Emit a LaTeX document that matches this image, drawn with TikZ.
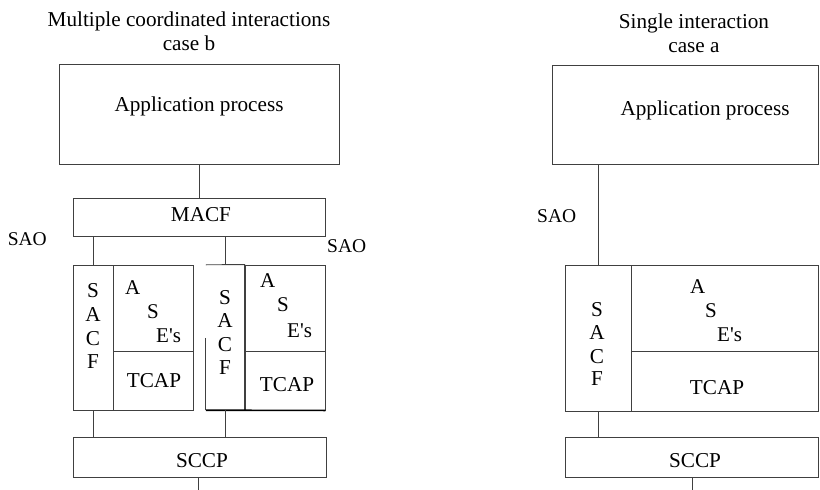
\documentclass[tikz,border=0pt]{standalone}
\usepackage{fontspec}
\setmainfont{Liberation Serif}
\begin{document}
\begin{tikzpicture}[x=1pt,y=-1pt,
  box/.style={draw=linec,line width=0.9pt,inner sep=0pt,minimum width=#1},
  txt/.style={inner sep=0pt,anchor=base,font=\fontsize{21.2}{24}\selectfont},
  txtw/.style={inner sep=0pt,anchor=base west,font=\fontsize{21}{24}\selectfont},
  sao/.style={inner sep=0pt,font=\fontsize{19.5}{22}\selectfont},
  conn/.style={draw=linec,line width=0.9pt}]
\definecolor{linec}{HTML}{404040}
\useasboundingbox (0,0) rectangle (820,490);
\fill[white] (0,0) rectangle (820,490);
% ---------------- case b (left) ----------------
\node[txt] (tb1) at (189,26) {Multiple coordinated interactions};
\node[txt] (tb2) at (189,50) {case b};
\node[box=280pt,minimum height=100pt] (apL) at (199,114) {};
\node[txt] (apLt) at (199,111) {Application process};
\node[box=252pt,minimum height=38pt] (macf) at (199,217) {};
\node[txt] (macft) at (201,221) {MACF};
% left stack
\node[box=40pt,minimum height=145pt] (sacfL) at (93,337.5) {};
\node[box=80pt,minimum height=86pt] (aseL) at (153,308) {};
\node[box=80pt,minimum height=59pt] (tcapL) at (153,380.5) {};
% right stack (partially outlined SACF)
\node[inner sep=0pt,minimum width=39pt,minimum height=145pt] (sacfR) at (225.5,337.5) {};
\node[box=80pt,minimum height=86pt] (aseR) at (285,308) {};
\node[box=80pt,minimum height=59pt] (tcapR) at (285,380.5) {};
\draw[conn] (sacfR.north west) -- (aseR.north west) -- (aseR.south west |- sacfR.south);
\draw[conn] ([yshift=-73pt]sacfR.north west) coordinate (gapend) -- (sacfR.south west);
\draw[black,line width=1.6pt] (sacfR.south west) -- (tcapR.south east);
% SCCP
\node[box=253pt,minimum height=40pt] (sccpL) at (199.5,457) {};
\node[txt] (sccpLt) at (202,467) {SCCP};
\coordinate (endL) at (198,490);
% connectors
\draw[conn] (apL.south) -- (macf.north);
\draw[conn] (sacfL.north |- macf.south) -- (sacfL.north);
\draw[conn] (sacfR.north |- macf.south) -- (sacfR.north);
\draw[conn] (sacfL.south) -- (sacfL.south |- sccpL.north);
\draw[conn] (sacfR.south) -- (sacfR.south |- sccpL.north);
\draw[conn] (endL |- sccpL.south) -- (endL);
% texts in stacks
\foreach \l/\y [count=\i] in {S/297,A/321,C/345,F/368}
  \node[txt] (sL\i) at (93,\y) {\l};
\foreach \l/\y [count=\i] in {S/304,A/327,C/351,F/374}
  \node[txt] (sR\i) at (225,\y) {\l};
\node[txtw] (aL1) at (125,294) {A};
\node[txtw] (aL2) at (147,318) {S};
\node[txtw] (aL3) at (156,342) {E\textquotesingle s};
\node[txt] (tcLt) at (154,387) {TCAP};
\node[txtw] (aR1) at (260,287) {A};
\node[txtw] (aR2) at (277,311) {S};
\node[txtw] (aR3) at (287,337) {E\textquotesingle s};
\node[txt] (tcRt) at (287,391) {TCAP};
% SAO labels
\node[sao,anchor=base east] (saoL) at (47,245) {SAO};
\node[sao,anchor=base west] (saoM) at (327,252) {SAO};
% ---------------- case a (right) ----------------
\node[txt] (ta1) at (694,28) {Single interaction};
\node[txt] (ta2) at (694,52) {case a};
\node[box=266pt,minimum height=99pt] (apR) at (685,114.5) {};
\node[txt] (apRt) at (705,115) {Application process};
\node[box=66pt,minimum height=146pt] (sacfA) at (598,338) {};
\node[box=187pt,minimum height=86pt] (aseA) at (724.5,308) {};
\node[box=187pt,minimum height=60pt] (tcapA) at (724.5,381) {};
\node[box=253pt,minimum height=40pt] (sccpR) at (691.5,457) {};
\node[txt] (sccpRt) at (695,467) {SCCP};
\coordinate (endR) at (692,490);
\draw[conn] (sacfA.north |- apR.south) -- (sacfA.north);
\draw[conn] (sacfA.south) -- (sacfA.south |- sccpR.north);
\draw[conn] (endR |- sccpR.south) -- (endR);
\foreach \l/\y [count=\i] in {S/316,A/339,C/363,F/385}
  \node[txt] (sA\i) at (597,\y) {\l};
\node[txtw] (aA1) at (690,293) {A};
\node[txtw] (aA2) at (705,317) {S};
\node[txtw] (aA3) at (717,341) {E\textquotesingle s};
\node[txt] (tcAt) at (717,394) {TCAP};
\node[sao,anchor=base west] (saoR) at (537,222) {SAO};
\end{tikzpicture}
\end{document}
